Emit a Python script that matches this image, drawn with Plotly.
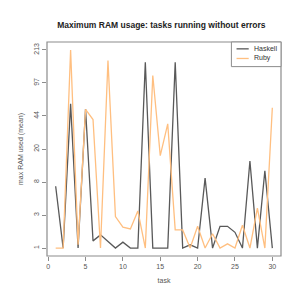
import numpy as np
import plotly.graph_objects as go

tasks = list(range(1, 31))
haskell = [7.6, 1, 59, 1, 52, 1.37, 1.73, 1.34, 1, 1.3, 1, 1, 159, 1, 1,
           1, 159, 1, 1.16, 1, 9.4, 1, 2.34, 2.34, 1.9, 1, 14.6, 1, 11.4, 1]
ruby = [1, 1, 213, 1.16, 51.7, 40.4, 1, 166, 3.2, 2.27, 2.14, 3.8, 1, 116, 16.7,
        36.4, 2.07, 2.07, 1, 2.34, 1, 1.8, 1, 1.21, 1, 2.42, 1, 4.13, 1, 53.8]
y_tick_labels = ["1", "3", "8", "20", "44", "97", "213"]
x_ticks = [0, 5, 10, 15, 20, 25, 30]

# axis is log(value + 1); ticks evenly spaced on that scale
lo, hi = np.log10(min(haskell + ruby) + 1), np.log10(max(haskell + ruby) + 1)
tickvals = list(10 ** np.linspace(lo, hi, len(y_tick_labels)))
pad = 0.04 * (hi - lo)

FONT = "Liberation Sans, Arial, sans-serif"
HCOL = "#595959"
RCOL = "#FFBF80"
GRID = "#8c8c8c"
TXT = "#555555"

fig = go.Figure()
fig.add_trace(go.Scatter(x=tasks, y=[v + 1 for v in haskell], mode="lines",
                         name="Haskell", line=dict(color=HCOL, width=1.3)))
fig.add_trace(go.Scatter(x=tasks, y=[v + 1 for v in ruby], mode="lines",
                         name="Ruby", line=dict(color=RCOL, width=1.3)))

fig.update_layout(
    width=291, height=291,
    margin=dict(l=34, r=18, t=34, b=43),
    paper_bgcolor="white", plot_bgcolor="white",
    showlegend=False,
    font=dict(family=FONT, size=7, color=TXT),
    title=dict(text="<b>Maximum RAM usage: tasks running without errors</b>",
               x=0.527, xanchor="center", y=0.942, yanchor="middle",
               font=dict(size=8.5, color="#222222")),
    xaxis=dict(range=[-0.16 * 1, 31.16], tickvals=x_ticks, ticks="outside", ticklen=4,
               tickcolor=GRID, showgrid=False, zeroline=False, showline=False,
               tickfont=dict(size=7, color=TXT),
               title=dict(text="task", standoff=8, font=dict(size=7, color=TXT))),
    yaxis=dict(type="log", range=[lo - pad, hi + pad], tickvals=tickvals,
               ticktext=y_tick_labels, ticks="outside", ticklen=4, tickcolor=GRID,
               tickangle=-90, showgrid=False, zeroline=False, showline=False,
               tickfont=dict(size=7, color=TXT),
               title=dict(text="max RAM used (mean)", standoff=8,
                          font=dict(size=7, color=TXT))),
)

# plot frame
fig.add_shape(type="rect", xref="paper", yref="paper", x0=0, y0=0, x1=1, y1=1,
              line=dict(color=GRID, width=1.2))

# legend box
lx0, lx1 = 0.788, 1.0
ly0, ly1 = 0.885, 1.0
fig.add_shape(type="rect", xref="paper", yref="paper", x0=lx0, y0=ly0, x1=lx1, y1=ly1,
              line=dict(color=GRID, width=1), fillcolor="white")
for i, (name, col) in enumerate([("Haskell", HCOL), ("Ruby", RCOL)]):
    yy = 0.968 - i * 0.045
    fig.add_shape(type="line", xref="paper", yref="paper", x0=0.81, x1=0.862,
                  y0=yy, y1=yy, line=dict(color=col, width=1.3))
    fig.add_annotation(xref="paper", yref="paper", x=0.875, y=yy, text=name,
                       showarrow=False, xanchor="left", yanchor="middle",
                       font=dict(size=7, color="#333333"))

fig.write_html("out.html")
